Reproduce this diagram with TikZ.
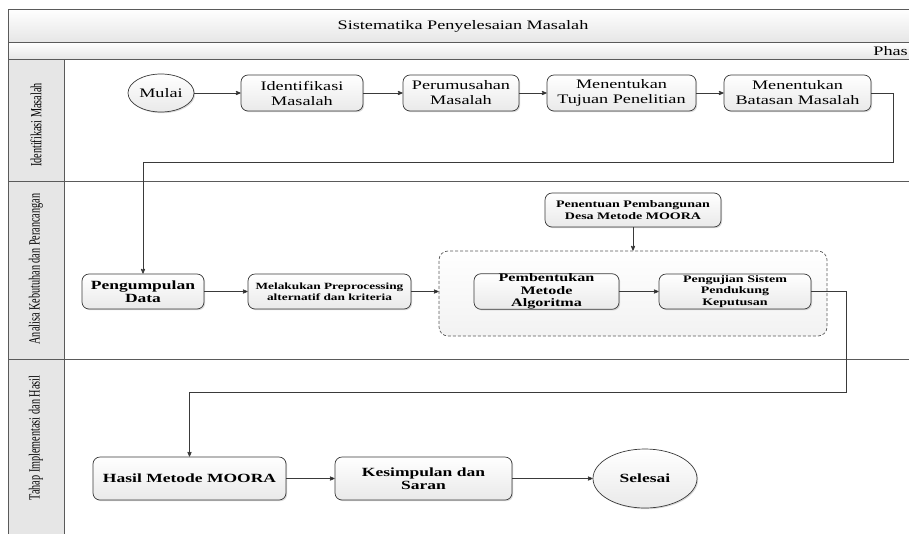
\documentclass[tikz,border=0pt]{standalone}
\usepackage{fontspec}
\setmainfont[FakeStretch=1.4]{Liberation Serif}
\newfontfamily\lanefont[FakeStretch=0.66]{Liberation Serif}
\usetikzlibrary{positioning,arrows,shadows,shapes.geometric}

\definecolor{garis}{HTML}{5A5A5A}
\definecolor{panah}{HTML}{3A3A3A}
\definecolor{latar}{HTML}{E6E6E6}

\newcommand{\teksA}{\fontsize{13}{15}\selectfont}
\newcommand{\teksB}{\bfseries\fontsize{12.5}{13}\selectfont}
\newcommand{\teksC}{\bfseries\fontsize{9.5}{11}\selectfont}
\newcommand{\teksL}{\lanefont\fontsize{15.5}{17}\selectfont}

\begin{document}
\begin{tikzpicture}[x=1pt,y=-1pt]
\useasboundingbox (0,0) rectangle (909,533);
\clip (0,0) rectangle (909,533);
% Kerangka swimlane
\draw[garis,line width=1pt,top color=white,bottom color=latar] (8,9) rectangle (940,42);
\draw[garis,line width=1pt,top color=white,bottom color=latar] (8,42) rectangle (940,59);
\draw[garis,line width=1pt,fill=latar] (8,59) rectangle (64,560);
\draw[garis,line width=1pt] (8,181) -- (940,181) (8,359) -- (940,359);
\node (judul) at (463,26) {\teksA Sistematika Penyelesaian Masalah};
\node[anchor=east,inner sep=0pt] (fase) at (908,51) {\teksA Phas};
\node[rotate=90] (lajur1) at (36,125) {\teksL Identifikasi Masalah};
\node[rotate=90] (lajur2) at (36,269) {\teksL Analisa Kebutuhan dan Perancangan};
\node[rotate=90] (lajur3) at (36,438) {\teksL Tahap Implementasi dan Hasil};

% Alur proses
   \begin{scope}[ node distance=2cm,on grid,>=stealth',
                   proses/.style={rectangle,rounded corners=7pt,draw=panah,line width=.7pt,
                     top color=white,bottom color=gray!17,align=center,inner sep=1pt,
                     drop shadow={shadow xshift=1.2pt,shadow yshift=-1.2pt,opacity=.3}},
                   terminal/.style={ellipse,draw=panah,line width=.7pt,
                     top color=white,bottom color=gray!17,inner sep=0pt,
                     drop shadow={shadow xshift=1.2pt,shadow yshift=-1.2pt,opacity=.3}},
                   grup/.style={rectangle,rounded corners=9pt,draw=garis,line width=.7pt,
                     dash pattern=on 3pt off 2pt,top color=white,bottom color=gray!10},
                   alur/.style={draw=panah,line width=.8pt} ]
     \node [terminal,font=\teksA,minimum width=66pt,minimum height=38pt] (mulai) at (161,93) {Mulai};
     \node [proses,font=\teksA,minimum width=122pt,minimum height=36pt] (identifikasi) [right=141pt of mulai] {Identifikasi\\Masalah};
     \node [proses,font=\teksA,minimum width=116pt,minimum height=36pt] (perumusan) [right=159pt of identifikasi] {Perumusahan\\Masalah};
     \node [proses,font=\teksA,minimum width=149pt,minimum height=36pt] (tujuan) [right=160.5pt of perumusan] {Menentukan\\Tujuan Penelitian};
     \node [proses,font=\teksA,minimum width=147pt,minimum height=36pt] (batasan) [right=176pt of tujuan] {Menentukan\\Batasan Masalah};
     \draw [alur] (mulai) edge [->] (identifikasi);
     \draw [alur] (identifikasi) edge [->] (perumusan);
     \draw [alur] (perumusan) edge [->] (tujuan);
     \draw [alur] (tujuan) edge [->] (batasan);

     \node [proses,font=\teksB,minimum width=122pt,minimum height=35pt] (pengumpulan) at (143,291.5) {Pengumpulan\\Data};
     \node [proses,font=\teksC,minimum width=163pt,minimum height=35pt] (preprocessing) [right=186.5pt of pengumpulan] {Melakukan Preprocessing\\alternatif dan kriteria};
     \node [grup,minimum width=388pt,minimum height=85pt] (metode) at (633,293.5) {};
     \node [proses,font=\bfseries\fontsize{10}{12}\selectfont,minimum width=176pt,minimum height=34pt] (penentuan) [above=83.5pt of metode] {Penentuan Pembangunan\\Desa Metode MOORA};
     \node [proses,font=\bfseries\fontsize{11.5}{12.5}\selectfont,minimum width=145pt,minimum height=35pt,inner ysep=0pt] (pembentukan) at (546.5,291.5) {Pembentukan\\Metode\\Algoritma};
     \node [proses,font=\bfseries\fontsize{10}{11.5}\selectfont,minimum width=152pt,minimum height=35pt,inner ysep=0pt] (pengujian) [right=188.5pt of pembentukan] {Pengujian Sistem\\Pendukung\\Keputusan};
     \draw [alur] (pengumpulan) edge [->] (preprocessing);
     \draw [alur] (preprocessing.east) edge [->] (metode.west |- preprocessing.east);
     \draw [alur] (penentuan) edge [->] (metode);
     \draw [alur] (pembentukan) edge [->] (pengujian);

     \node [proses,font=\teksB,minimum width=193pt,minimum height=43pt] (hasil) at (189.5,478.5) {Hasil Metode MOORA};
     \node [proses,font=\teksB,minimum width=177pt,minimum height=43pt] (kesimpulan) [right=234pt of hasil] {Kesimpulan dan\\Saran};
     \node [terminal,font=\teksB,minimum width=104pt,minimum height=59pt] (selesai) [right=221.5pt of kesimpulan] {Selesai};
     \draw [alur] (hasil) edge [->] (kesimpulan);
     \draw [alur] (kesimpulan) edge [->] (selesai);

     % sambungan antar lajur
     \coordinate (belok1) at (893,162);
     \coordinate (belok2) at (846,392);
     \draw [alur,->] (batasan.east) -| (belok1) -| (pengumpulan.north);
     \draw [alur,->] (pengujian.east) -| (belok2) -| (hasil.north);
   \end{scope}
\end{tikzpicture}
\end{document}
